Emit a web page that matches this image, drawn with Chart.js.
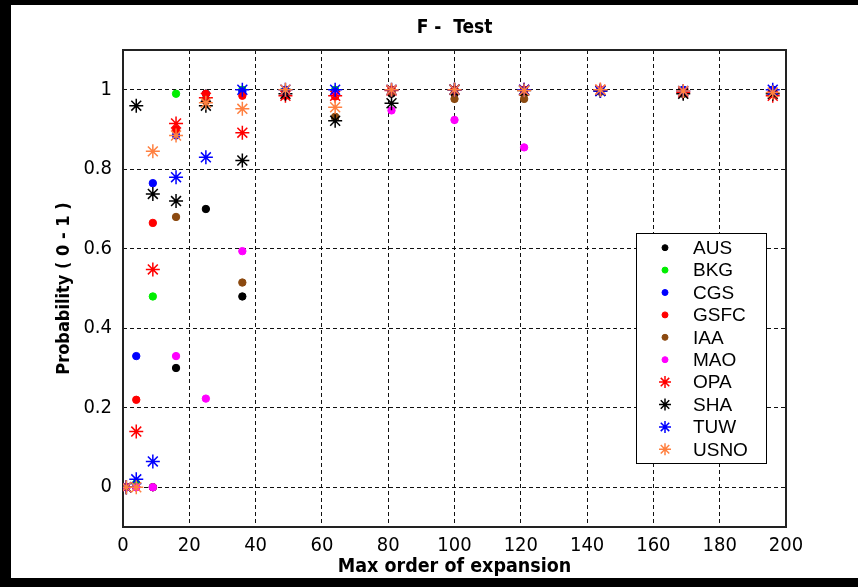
<!DOCTYPE html>
<html>
<head>
<meta charset="utf-8">
<title>F - Test</title>
<script src="https://cdn.jsdelivr.net/npm/chart.js@4.4.1/dist/chart.umd.min.js"></script>
<style>
  html, body { margin: 0; padding: 0; background: #000; }
  #wrap { width: 858px; height: 587px; }
</style>
</head>
<body>
<div id="wrap"><canvas id="fTest" width="858" height="587"></canvas></div>
<script>
// Max order of expansion for each sample
const orders = [1, 4, 9, 16, 25, 36, 49, 64, 81, 100, 121, 144, 169, 196];

// Analysis centres, in legend order
const centres = ['AUS', 'BKG', 'CGS', 'GSFC', 'IAA', 'MAO', 'OPA', 'SHA', 'TUW', 'USNO'];

// Probability (0 - 1) per centre
const aus  = [0, 0, 0, 0.30, 0.70, 0.48, 0.99, 0.93, 0.99, 0.99, 0.99, 1.0, 0.99, 1.0];
const bkg  = [0, 0.01, 0.48, 0.99, 0.99, 1.0, 1.0, 1.0, 1.0, 1.0, 1.0, 1.0, 1.0, 1.0];
const cgs  = [0, 0.33, 0.765, 0.885, 0.99, 0.995, 1.0, 0.995, 1.0, 1.0, 1.0, 1.0, 1.0, 1.0];
const gsfc = [0, 0.22, 0.665, 0.90, 0.99, 0.985, 0.985, 0.983, 1.0, 1.0, 1.0, 1.0, 0.995, 0.99];
const iaa  = [0, 0, 0, 0.68, 0.975, 0.515, 0.99, 0.932, 0.995, 0.977, 0.977, 0.995, 0.99, 0.99];
const mao  = [0, 0, 0, 0.33, 0.223, 0.594, 0.99, 0.99, 0.948, 0.924, 0.855, 1.0, 0.995, 0.995];
const opa  = [0, 0.14, 0.548, 0.915, 0.98, 0.892, 0.985, 0.985, 0.998, 1.0, 1.0, 1.0, 0.993, 0.985];
const sha  = [0, 0.96, 0.738, 0.72, 0.96, 0.822, 0.99, 0.922, 0.966, 1.0, 0.998, 0.997, 0.99, 0.99];
const tuw  = [0, 0.02, 0.065, 0.78, 0.83, 1.0, 1.0, 1.0, 1.0, 1.0, 1.0, 0.997, 0.997, 1.0];
const usno = [0, 0, 0.845, 0.885, 0.967, 0.952, 1.0, 0.956, 1.0, 1.0, 0.998, 1.0, 0.997, 0.993];

const series = [aus, bkg, cgs, gsfc, iaa, mao, opa, sha, tuw, usno];

// Axis ticks
const xTicks = [0, 20, 40, 60, 80, 100, 120, 140, 160, 180, 200];
const yTicks = [0, 0.2, 0.4, 0.6, 0.8, 1];

const colours = ['#000000', '#00ee00', '#0000ff', '#ff0000', '#8c4a10',
                 '#ff00ff', '#ff0000', '#000000', '#0000ff', '#ff8040'];
const markers = ['circle', 'circle', 'circle', 'circle', 'circle',
                 'circle', 'star', 'star', 'star', 'star'];

const narrow = '"Liberation Sans Narrow", "DejaVu Sans Condensed", "Arial Narrow", sans-serif';

// Figure frame, axes box, title and in-plot legend
const figure = {
    id: 'figure',
    beforeDraw(chart) {
        const ctx = chart.ctx;
        ctx.save();
        ctx.fillStyle = '#000';
        ctx.fillRect(0, 0, chart.width, chart.height);
        ctx.fillStyle = '#fff';
        ctx.fillRect(11, 5, chart.width - 11, 573);
        ctx.restore();
    },
    beforeDatasetsDraw(chart) {
        const { ctx, chartArea: a } = chart;
        ctx.save();
        ctx.strokeStyle = '#222';
        ctx.lineWidth = 2;
        ctx.strokeRect(a.left, a.top, a.right - a.left, a.bottom - a.top);
        ctx.restore();
    },
    afterDraw(chart) {
        const { ctx, chartArea: a } = chart;
        ctx.save();
        ctx.fillStyle = '#000';
        ctx.font = 'bold 19px ' + narrow;
        ctx.textAlign = 'center';
        ctx.textBaseline = 'middle';
        ctx.fillText('F -  Test', (a.left + a.right) / 2, 28);

        // legend box
        const bx = 636, by = 233, bw = 130, bh = 230, row = 22.4;
        ctx.fillStyle = '#fff';
        ctx.fillRect(bx, by, bw, bh);
        ctx.strokeStyle = '#000';
        ctx.lineWidth = 1;
        ctx.strokeRect(bx + 0.5, by + 0.5, bw, bh);

        ctx.font = '19px "Liberation Sans", Arial, sans-serif';
        ctx.textAlign = 'left';
        centres.forEach((name, i) => {
            const y = by + 14.7 + i * row;
            const star = markers[i] === 'star';
            ctx.fillStyle = colours[i];
            ctx.strokeStyle = colours[i];
            ctx.lineWidth = star ? 1.5 : 1;
            Chart.helpers.drawPoint(ctx, {
                pointStyle: markers[i],
                radius: star ? 6 : 3,
                borderWidth: star ? 1.5 : 1,
                rotation: 0
            }, bx + 29, y);
            ctx.fillStyle = '#000';
            ctx.fillText(name, bx + 57, y + 1);
        });
        ctx.restore();
    }
};

function createChart() {
    const datasets = centres.map((name, i) => ({
        label: name,
        data: orders.map((x, j) => ({ x: x, y: series[i][j] })),
        pointStyle: markers[i],
        pointRadius: markers[i] === 'star' ? 7 : 3.7,
        pointHoverRadius: markers[i] === 'star' ? 7 : 3.7,
        pointBorderWidth: markers[i] === 'star' ? 1.5 : 1,
        backgroundColor: colours[i],
        borderColor: colours[i],
        showLine: false,
        order: centres.length - i   // later centres drawn on top
    }));

    const gridOpts = {
        color: '#111',
        lineWidth: 1,
        drawTicks: false
    };

    new Chart(document.getElementById('fTest').getContext('2d'), {
        type: 'scatter',
        data: { datasets: datasets },
        options: {
            responsive: false,
            animation: false,
            devicePixelRatio: 1,
            events: [],
            layout: { padding: { top: 50, right: 72, bottom: 0, left: 0 } },
            plugins: {
                legend: { display: false },
                tooltip: { enabled: false },
                title: { display: false }
            },
            scales: {
                x: {
                    type: 'linear',
                    min: 0,
                    max: 200,
                    afterBuildTicks: scale => { scale.ticks = xTicks.map(v => ({ value: v })); },
                    afterFit: scale => { scale.height = 60; },
                    grid: gridOpts,
                    border: { display: false, dash: [4, 3] },
                    ticks: {
                        color: '#000',
                        padding: 7,
                        maxRotation: 0,
                        font: { family: narrow, size: 20 },
                        callback: v => String(v)
                    },
                    title: {
                        display: true,
                        text: 'Max order of expansion',
                        color: '#000',
                        font: { family: narrow, size: 19.5, weight: 'bold' },
                        padding: { top: 0, bottom: 8 }
                    }
                },
                y: {
                    type: 'linear',
                    min: -0.1,
                    max: 1.1,
                    afterBuildTicks: scale => { scale.ticks = yTicks.map(v => ({ value: v })); },
                    afterFit: scale => { scale.width = 123; },
                    grid: gridOpts,
                    border: { display: false, dash: [4, 3] },
                    ticks: {
                        color: '#000',
                        padding: 11,
                        font: { family: narrow, size: 20 },
                        callback: v => String(+v.toFixed(1))
                    },
                    title: {
                        display: true,
                        text: 'Probability ( 0 - 1 )',
                        color: '#000',
                        font: { family: narrow, size: 18, weight: 'bold' },
                        padding: { top: 54, bottom: 0 }
                    }
                }
            }
        },
        plugins: [figure]
    });
}

window.onload = createChart;
</script>
</body>
</html>
